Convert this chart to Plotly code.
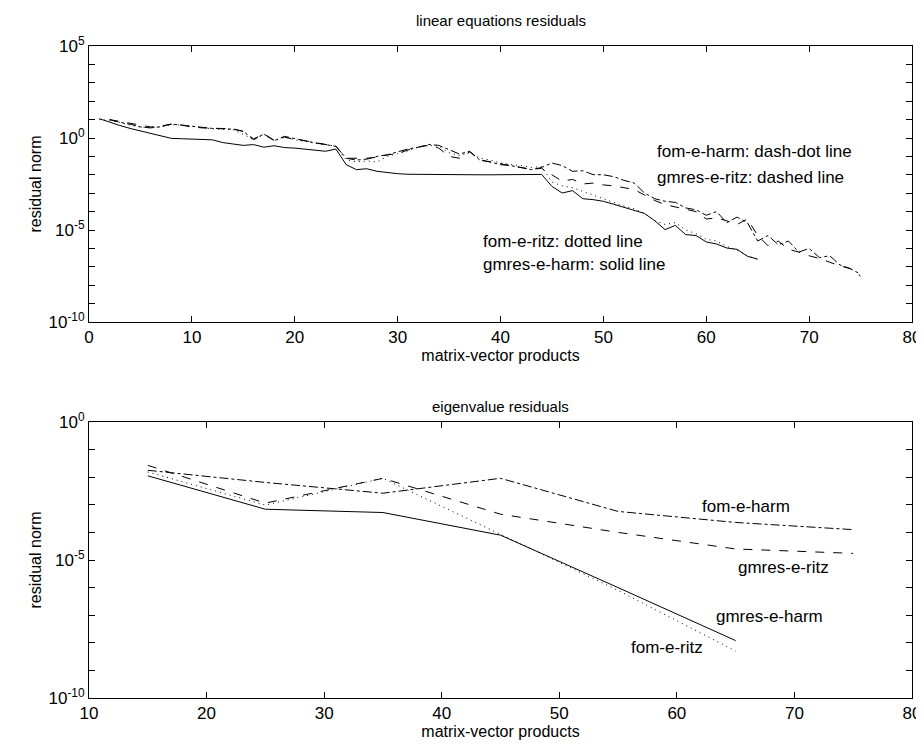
import numpy as np
import plotly.graph_objects as go

# ---------------- data (log10 of residual norms) ----------------
top_x_short = list(range(1, 66))   # gmres-e-harm, fom-e-ritz
top_x_long = list(range(2, 76))    # gmres-e-ritz, fom-e-harm

top_gmres_e_harm_log10 = [
    1.05, 0.85, 0.68, 0.52, 0.38, 0.25, 0.10, -0.02, -0.04, -0.06,
    -0.08, -0.10, -0.25, -0.32, -0.40, -0.36, -0.50, -0.42, -0.52, -0.55,
    -0.62, -0.68, -0.72, -0.60, -1.45, -1.72, -1.67, -1.81, -1.88, -1.94,
    -1.97, -1.98, -1.98, -1.99, -1.99, -1.99, -1.99, -2.00, -2.00, -2.00,
    -2.00, -2.00, -2.00, -1.98, -2.63, -2.99, -2.86, -3.30, -3.35, -3.44,
    -3.60, -3.78, -3.92, -4.10, -4.50, -4.98, -4.75, -5.25, -5.30, -5.65,
    -5.76, -5.98, -6.05, -6.43, -6.58]

top_fom_e_ritz_log10 = [
    1.00, 0.95, 0.85, 0.70, 0.60, 0.55, 0.60, 0.72, 0.70, 0.62,
    0.55, 0.50, 0.48, 0.45, 0.20, -0.10, 0.20, -0.15, 0.05, -0.10,
    -0.18, -0.25, -0.35, -0.45, -1.20, -1.30, -1.25, -1.30, -1.00, -0.85,
    -0.70, -0.50, -0.40, -0.45, -0.80, -0.95, -0.80, -1.10, -1.20, -1.35,
    -1.45, -1.50, -1.60, -1.55, -2.40, -2.60, -2.70, -2.90, -3.10, -3.30,
    -3.50, -3.70, -3.85, -4.10, -4.50, -4.70, -4.60, -5.00, -5.20, -5.50,
    -5.60, -5.90, -6.10, -6.40, -6.60]

top_gmres_e_ritz_log10 = [
    1.00, 0.90, 0.80, 0.70, 0.60, 0.65, 0.75, 0.70, 0.60, 0.55,
    0.52, 0.50, 0.50, 0.35, -0.05, 0.22, -0.12, 0.05, -0.08, -0.15,
    -0.25, -0.32, -0.45, -1.10, -1.12, -1.10, -1.05, -0.92, -0.85, -0.65,
    -0.50, -0.40, -0.55, -1.00, -1.10, -0.75, -1.20, -1.30, -1.40, -1.50,
    -1.60, -1.70, -1.65, -2.00, -2.35, -2.25, -2.50, -2.45, -2.55, -2.60,
    -2.70, -2.80, -3.10, -3.40, -3.62, -3.75, -3.90, -4.00, -4.40, -4.35,
    -4.50, -4.70, -4.40, -5.30, -5.85, -5.60, -6.05, -6.20, -6.40, -6.55,
    -6.75, -6.95, -7.10, -7.50]

top_fom_e_harm_log10 = [
    1.00, 0.85, 0.75, 0.60, 0.55, 0.62, 0.76, 0.70, 0.60, 0.54,
    0.52, 0.50, 0.48, 0.37, -0.09, 0.22, -0.15, 0.09, -0.05, -0.15,
    -0.27, -0.35, -0.45, -1.10, -1.20, -1.15, -1.00, -0.91, -0.75, -0.60,
    -0.50, -0.35, -0.40, -0.65, -0.87, -0.72, -1.20, -1.30, -1.45, -1.50,
    -1.60, -1.72, -1.60, -1.36, -1.50, -1.81, -1.78, -1.99, -2.00, -2.10,
    -2.30, -2.45, -2.99, -3.30, -3.44, -3.50, -3.80, -3.90, -4.20, -4.00,
    -4.60, -4.30, -4.60, -5.60, -5.30, -5.80, -5.60, -6.20, -6.00, -6.50,
    -6.40, -6.90, -7.10, -7.40]

bot_x_short = [15, 25, 35, 45, 55, 65]
bot_x_long = [15, 25, 35, 45, 55, 65, 75]
bot_gmres_e_harm_log10 = [-1.95, -3.16, -3.28, -4.10, -6.00, -7.92]
bot_fom_e_ritz_log10 = [-1.81, -3.01, -2.04, -4.06, -6.10, -8.30]
bot_gmres_e_ritz_log10 = [-1.57, -2.94, -2.04, -3.34, -4.00, -4.60, -4.76]
bot_fom_e_harm_log10 = [-1.75, -2.19, -2.58, -2.04, -3.24, -3.64, -3.90]

y_tick_exps = [5, 0, -5, -10]
y_tick_labels = ["10<sup>5</sup>", "10<sup>0</sup>", "10<sup>-5</sup>", "10<sup>-10</sup>"]
y2_tick_exps = [0, -5, -10]
y2_tick_labels = ["10<sup>0</sup>", "10<sup>-5</sup>", "10<sup>-10</sup>"]

# ---------------- figure ----------------
def pw(v):
    return [10.0 ** e for e in v]

FONT = "Liberation Sans, Arial, sans-serif"
W, H = 924, 746
ML, MR, MT, MB = 81, 11, 38, 56
TOP_PX = (38, 314)      # pixel rows of the upper axes box
BOT_PX = (414, 690)     # pixel rows of the lower axes box
ph = H - MT - MB
def dom(px):
    return [(H - MB - px[1]) / ph, (H - MB - px[0]) / ph]

fig = go.Figure()

styles = [("gmres-e-harm", "solid"), ("fom-e-ritz", "1px,4px"),
          ("gmres-e-ritz", "dash"), ("fom-e-harm", "dashdot")]
top_series = [(top_x_short, top_gmres_e_harm_log10), (top_x_short, top_fom_e_ritz_log10),
              (top_x_long, top_gmres_e_ritz_log10), (top_x_long, top_fom_e_harm_log10)]
bot_series = [(bot_x_short, bot_gmres_e_harm_log10), (bot_x_short, bot_fom_e_ritz_log10),
              (bot_x_long, bot_gmres_e_ritz_log10), (bot_x_long, bot_fom_e_harm_log10)]

for (name, dash), (xs, ys) in zip(styles, top_series):
    fig.add_trace(go.Scatter(x=xs, y=pw(ys), mode="lines", name=name,
                             line=dict(color="black", width=1, dash=dash),
                             xaxis="x", yaxis="y", showlegend=False))
for (name, dash), (xs, ys) in zip(styles, bot_series):
    fig.add_trace(go.Scatter(x=xs, y=pw(ys), mode="lines", name=name,
                             line=dict(color="black", width=1, dash=dash),
                             xaxis="x2", yaxis="y2", showlegend=False))

tickfont = dict(family=FONT, size=17, color="black")
titlefont = dict(family=FONT, size=16, color="black")

def xaxis(rng, anchor):
    return dict(range=rng, tickvals=list(range(rng[0], rng[1] + 1, 10)),
                ticks="inside", ticklen=6, tickcolor="black", tickwidth=1,
                showline=True, linecolor="black", linewidth=1, mirror="allticks",
                showgrid=False, zeroline=False, anchor=anchor, tickfont=tickfont,
                title=dict(text="matrix-vector products", font=titlefont, standoff=0))

def yaxis(rng, exps, labels, anchor, domain):
    return dict(type="log", range=rng, domain=domain,
                tickvals=[10.0 ** e for e in exps], ticktext=labels,
                ticks="inside", ticklen=6, tickcolor="black", tickwidth=1,
                minor=dict(tickvals=[10.0 ** e for e in range(rng[0], rng[1] + 1)],
                           ticks="inside", ticklen=6, tickcolor="black"),
                showline=True, linecolor="black", linewidth=1, mirror="allticks",
                showgrid=False, zeroline=False, anchor=anchor, tickfont=tickfont,
                title=dict(text="residual norm", font=titlefont, standoff=2))

fig.update_layout(
    width=W, height=H,
    margin=dict(l=ML, r=MR, t=MT, b=MB),
    paper_bgcolor="white", plot_bgcolor="white",
    xaxis=xaxis([0, 80], "y"),
    yaxis=yaxis([-10, 5], y_tick_exps, y_tick_labels, "x", dom(TOP_PX)),
    xaxis2=xaxis([10, 80], "y2"),
    yaxis2=yaxis([-10, 0], y2_tick_exps, y2_tick_labels, "x2", dom(BOT_PX)),
    font=dict(family=FONT, color="black"),
)

ann_font = dict(family=FONT, size=17, color="black")
top_notes = [("fom-e-harm: dash-dot line", 55.0, -0.71),
             ("gmres-e-ritz: dashed line", 55.0, -2.17),
             ("fom-e-ritz: dotted line", 38.1, -5.6),
             ("gmres-e-harm: solid line", 38.1, -6.9)]
for txt, x, y in top_notes:
    fig.add_annotation(text=txt, x=x, y=y, xref="x", yref="y", showarrow=False,
                       xanchor="left", yanchor="middle", font=ann_font)
bot_notes = [("fom-e-harm", 65.9, -3.06), ("gmres-e-ritz", 69.1, -5.27),
             ("gmres-e-harm", 67.9, -7.04), ("fom-e-ritz", 59.2, -8.16)]
for txt, x, y in bot_notes:
    fig.add_annotation(text=txt, x=x, y=y, xref="x2", yref="y2", showarrow=False,
                       xanchor="center", yanchor="middle", font=ann_font)

fig.add_annotation(text="linear equations residuals", xref="paper", yref="paper",
                   x=0.5, y=dom(TOP_PX)[1], yshift=26, showarrow=False, yanchor="middle",
                   font=dict(family=FONT, size=15, color="black"))
fig.add_annotation(text="eigenvalue residuals", xref="paper", yref="paper",
                   x=0.5, y=dom(BOT_PX)[1], yshift=16, showarrow=False, yanchor="middle",
                   font=dict(family=FONT, size=15, color="black"))

fig.write_html("out.html")
